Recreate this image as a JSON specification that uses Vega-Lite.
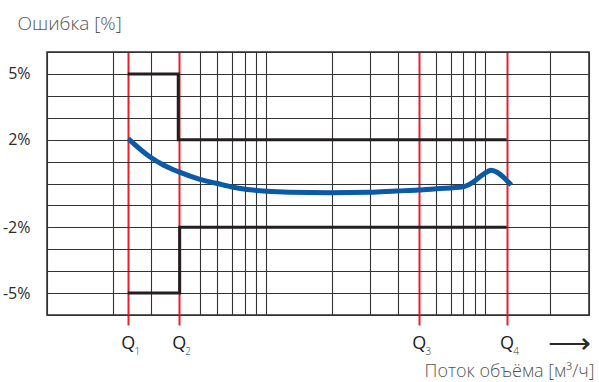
{
  "$schema": "https://vega.github.io/schema/vega-lite/v6.json",
  "width": 542,
  "height": 263,
  "autosize": {"type": "none"},
  "padding": {"left": 47, "top": 52, "right": 10, "bottom": 67},
  "config": {
    "font": "Open Sans",
    "view": {"stroke": "#2b2b2b", "strokeWidth": 1.5}
  },
  "datasets": {
    "curve": [
      {"q": 2.35, "err": 2.05},
      {"q": 2.95, "err": 1.22},
      {"q": 3.4, "err": 0.845},
      {"q": 3.98, "err": 0.54},
      {"q": 5.0, "err": 0.19},
      {"q": 5.95, "err": 0.01},
      {"q": 7.1, "err": -0.17},
      {"q": 8.75, "err": -0.3},
      {"q": 10.1, "err": -0.355},
      {"q": 12.9, "err": -0.4},
      {"q": 19.6, "err": -0.42},
      {"q": 29.9, "err": -0.4},
      {"q": 39.5, "err": -0.34},
      {"q": 49.6, "err": -0.3},
      {"q": 60.2, "err": -0.24},
      {"q": 79.6, "err": -0.15},
      {"q": 88.4, "err": 0.06},
      {"q": 98.2, "err": 0.41},
      {"q": 107.3, "err": 0.6},
      {"q": 115, "err": 0.49},
      {"q": 125.6, "err": 0.16},
      {"q": 132.4, "err": -0.07}
    ],
    "limits": [
      {"q": 2.34, "err": 5, "band": "upper", "o": 1},
      {"q": 3.98, "err": 5, "band": "upper", "o": 2},
      {"q": 3.98, "err": 2, "band": "upper", "o": 3},
      {"q": 126, "err": 2, "band": "upper", "o": 4},
      {"q": 2.34, "err": -5, "band": "lower", "o": 1},
      {"q": 4.04, "err": -5, "band": "lower", "o": 2},
      {"q": 4.04, "err": -2, "band": "lower", "o": 3},
      {"q": 126, "err": -2, "band": "lower", "o": 4}
    ]
  },
  "encoding": {
    "y": {
      "field": "err", "type": "quantitative",
      "scale": {"domain": [-6, 6], "nice": false, "zero": false},
      "axis": {
        "values": [-6, -5, -4, -3, -2, -1, 0, 1, 2, 3, 4, 5, 6],
        "labelExpr": "datum.value == 5 ? '5%' : datum.value == 2 ? '2%' : datum.value == -2 ? '-2%' : datum.value == -5 ? '-5%' : ''",
        "labelOverlap": false,
        "labelFont": "Open Sans",
        "labelFontSize": 16,
        "labelColor": "#2b2b2b",
        "labelPadding": 17,
        "ticks": false,
        "domain": false,
        "grid": true,
        "gridColor": "#333333",
        "gridWidth": 1.1,
        "gridOpacity": 1,
        "title": "Ошибка [%]",
        "titleFont": "Open Sans",
        "titleFontWeight": 300,
        "titleFontSize": 19,
        "titleColor": "#555555",
        "titleAngle": 0,
        "titleAlign": "left",
        "titleBaseline": "alphabetic",
        "titleX": -30,
        "titleY": -23
      }
    }
  },
  "layer": [
    {
      "data": {"name": "limits"},
      "mark": {"type": "line", "color": "#231f20", "strokeWidth": 3, "strokeCap": "butt", "strokeJoin": "miter"},
      "encoding": {
        "x": {
          "field": "q", "type": "quantitative",
          "scale": {"type": "log", "domain": [1, 300], "nice": false},
          "axis": {
            "orient": "bottom",
            "values": [1, 2, 3, 5, 6, 7, 8, 9, 10, 20, 30, 40, 60, 70, 80, 90, 100, 200, 300, 2.34, 4, 50, 126],
            "labelExpr": "datum.value == 2.34 || datum.value == 4 || datum.value == 50 || datum.value == 126 ? 'Q' : ''",
            "labelOverlap": false,
            "labelFlush": false,
            "labelFont": "Open Sans",
            "labelFontSize": 18,
            "labelFontWeight": 500,
            "labelColor": "#1e1e1e",
            "labelPadding": 9,
            "grid": true,
            "gridColor": {"condition": {"test": "datum.value == 2.34 || datum.value == 4 || datum.value == 50 || datum.value == 126", "value": "#e8202a"}, "value": "#333333"},
            "gridWidth": {"condition": {"test": "datum.value == 2.34 || datum.value == 4 || datum.value == 50 || datum.value == 126", "value": 2}, "value": 1.1},
            "gridOpacity": 1,
            "ticks": true,
            "tickSize": 10,
            "tickWidth": 2,
            "tickColor": {"condition": {"test": "datum.value == 2.34 || datum.value == 4 || datum.value == 50 || datum.value == 126", "value": "#e8202a"}, "value": "transparent"},
            "domain": false,
            "title": "Поток объёма [м³/ч]",
            "titleFont": "Open Sans",
            "titleFontWeight": 300,
            "titleFontSize": 18,
            "titleColor": "#555555",
            "titleAnchor": "end",
            "titleAlign": "right",
            "titleBaseline": "alphabetic",
            "titleX": 547,
            "titleY": 61
          }
        },
        "detail": {"field": "band"},
        "order": {"field": "o"}
      }
    },
    {
      "data": {"name": "curve"},
      "mark": {"type": "line", "color": "#0a5aa8", "strokeWidth": 5, "interpolate": "monotone", "strokeCap": "butt"},
      "encoding": {
        "x": {
          "field": "q", "type": "quantitative",
          "axis": {
            "orient": "bottom",
            "values": [2.34, 4, 50, 126],
            "labelExpr": "datum.value == 2.34 ? '1' : datum.value == 4 ? '2' : datum.value == 50 ? '3' : '4'",
            "labelOverlap": false,
            "labelFlush": false,
            "labelFont": "Open Sans",
            "labelFontSize": 10,
            "labelFontWeight": 300,
            "labelColor": "#333333",
            "labelOffset": 9,
            "labelPadding": 31,
            "ticks": false,
            "tickSize": 0,
            "grid": false,
            "domain": false,
            "title": "⟶",
            "titleFont": "DejaVu Sans",
            "titleFontWeight": 300,
            "titleFontSize": 30,
            "titleColor": "#2b2b2b",
            "titleAnchor": "end",
            "titleAlign": "right",
            "titleBaseline": "middle",
            "titleX": 543,
            "titleY": 28
          }
        }
      }
    }
  ],
  "resolve": {"axis": {"x": "independent"}}
}
